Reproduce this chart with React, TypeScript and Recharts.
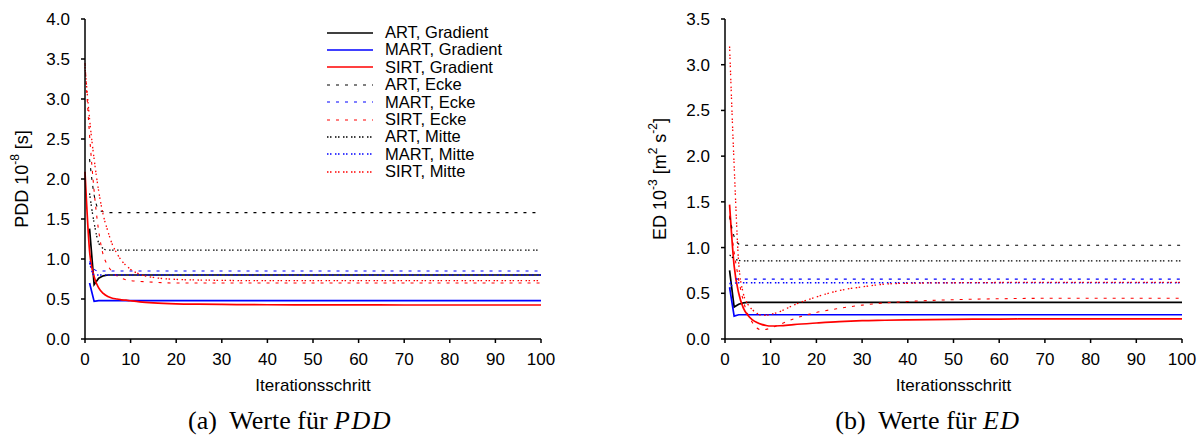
import React from 'react';
import { LineChart, Line, XAxis, YAxis } from 'recharts';

// iteration steps shared by all series
const steps = [0, 1, 2, 3, 4, 5, 6, 7, 8, 9, 10, 12, 15, 20, 25, 30, 35, 40, 50, 60, 70, 80, 90, 100];

// PDD 10^-8 [s]
const pddArtGrad = [null, 1.38, 0.68, 0.76, 0.79, 0.8, 0.8, 0.8, 0.8, 0.8, 0.8, 0.8, 0.8, 0.8, 0.8, 0.8, 0.8, 0.8, 0.8, 0.8, 0.8, 0.8, 0.8, 0.8];
const pddMartGrad = [null, 0.7, 0.47, 0.48, 0.48, 0.48, 0.48, 0.48, 0.48, 0.48, 0.48, 0.48, 0.48, 0.48, 0.48, 0.48, 0.48, 0.48, 0.48, 0.48, 0.48, 0.48, 0.48, 0.48];
const pddSirtGrad = [2.09, 1.1, 0.78, 0.64, 0.57, 0.53, 0.51, 0.5, 0.49, 0.485, 0.478, 0.465, 0.452, 0.44, 0.435, 0.432, 0.43, 0.428, 0.427, 0.426, 0.425, 0.425, 0.425, 0.425];
const pddArtEcke = [null, 2.25, 1.8, 1.62, 1.59, 1.58, 1.58, 1.58, 1.58, 1.58, 1.58, 1.58, 1.58, 1.58, 1.58, 1.58, 1.58, 1.58, 1.58, 1.58, 1.58, 1.58, 1.58, 1.58];
const pddMartEcke = [null, 0.97, 0.87, 0.85, 0.85, 0.85, 0.85, 0.85, 0.85, 0.85, 0.85, 0.85, 0.85, 0.85, 0.85, 0.85, 0.85, 0.85, 0.85, 0.85, 0.85, 0.85, 0.85, 0.85];
const pddSirtEcke = [3.45, 2.55, 1.85, 1.35, 1.05, 0.92, 0.84, 0.79, 0.76, 0.74, 0.73, 0.72, 0.71, 0.7, 0.7, 0.7, 0.7, 0.7, 0.7, 0.7, 0.7, 0.7, 0.7, 0.7];
const pddArtMitte = [null, 1.82, 1.45, 1.2, 1.13, 1.11, 1.11, 1.11, 1.11, 1.11, 1.11, 1.11, 1.11, 1.11, 1.11, 1.11, 1.11, 1.11, 1.11, 1.11, 1.11, 1.11, 1.11, 1.11];
const pddMartMitte = [null, 0.95, 0.8, 0.8, 0.8, 0.8, 0.8, 0.8, 0.8, 0.8, 0.8, 0.8, 0.8, 0.8, 0.8, 0.8, 0.8, 0.8, 0.8, 0.8, 0.8, 0.8, 0.8, 0.8];
const pddSirtMitte = [3.4, 2.75, 2.25, 1.85, 1.55, 1.35, 1.18, 1.07, 0.98, 0.92, 0.87, 0.81, 0.77, 0.745, 0.737, 0.733, 0.73, 0.73, 0.73, 0.73, 0.73, 0.73, 0.73, 0.73];

// ED 10^-3 [m^2 s^-2]
const edArtGrad = [null, 0.75, 0.35, 0.38, 0.395, 0.4, 0.4, 0.4, 0.4, 0.4, 0.4, 0.4, 0.4, 0.4, 0.4, 0.4, 0.4, 0.4, 0.4, 0.4, 0.4, 0.4, 0.4, 0.4];
const edMartGrad = [null, 0.565, 0.25, 0.265, 0.265, 0.265, 0.265, 0.265, 0.265, 0.265, 0.265, 0.265, 0.265, 0.265, 0.265, 0.265, 0.265, 0.265, 0.265, 0.265, 0.265, 0.265, 0.265, 0.265];
const edSirtGrad = [null, 1.47, 0.8, 0.5, 0.34, 0.26, 0.21, 0.18, 0.16, 0.148, 0.142, 0.145, 0.158, 0.175, 0.19, 0.2, 0.205, 0.21, 0.215, 0.218, 0.22, 0.22, 0.22, 0.22];
const edArtEcke = [null, 1.34, 1.12, 1.04, 1.025, 1.025, 1.025, 1.025, 1.025, 1.025, 1.025, 1.025, 1.025, 1.025, 1.025, 1.025, 1.025, 1.025, 1.025, 1.025, 1.025, 1.025, 1.025, 1.025];
const edMartEcke = [null, 0.6, 0.66, 0.655, 0.655, 0.655, 0.655, 0.655, 0.655, 0.655, 0.655, 0.655, 0.655, 0.655, 0.655, 0.655, 0.655, 0.655, 0.655, 0.655, 0.655, 0.655, 0.655, 0.655];
const edSirtEcke = [null, 1.35, 0.95, 0.65, 0.42, 0.27, 0.18, 0.12, 0.1, 0.105, 0.12, 0.16, 0.22, 0.29, 0.335, 0.37, 0.395, 0.41, 0.43, 0.44, 0.445, 0.445, 0.445, 0.445];
const edArtMitte = [null, 0.92, 0.88, 0.86, 0.855, 0.855, 0.855, 0.855, 0.855, 0.855, 0.855, 0.855, 0.855, 0.855, 0.855, 0.855, 0.855, 0.855, 0.855, 0.855, 0.855, 0.855, 0.855, 0.855];
const edMartMitte = [null, 0.55, 0.61, 0.615, 0.615, 0.615, 0.615, 0.615, 0.615, 0.615, 0.615, 0.615, 0.615, 0.615, 0.615, 0.615, 0.615, 0.615, 0.615, 0.615, 0.615, 0.615, 0.615, 0.615];
const edSirtMitte = [null, 3.2, 1.9, 0.83, 0.5, 0.38, 0.32, 0.28, 0.26, 0.26, 0.27, 0.3, 0.37, 0.46, 0.53, 0.57, 0.6, 0.61, 0.615, 0.618, 0.62, 0.62, 0.62, 0.62];

const xTicks = [0, 10, 20, 30, 40, 50, 60, 70, 80, 90, 100];
const pddTicks = [0, 0.5, 1, 1.5, 2, 2.5, 3, 3.5, 4];
const edTicks = [0, 0.5, 1, 1.5, 2, 2.5, 3, 3.5];

const FONT = '"Liberation Sans", Arial, Helvetica, sans-serif';
const DASH = '3 6';
const DOT = '1.5 1.5 1.5 3.5';

const SERIES = [
  { key: 'artGrad', name: 'ART, Gradient', color: '#000000', dash: undefined, width: 1.7, curve: 'linear' },
  { key: 'martGrad', name: 'MART, Gradient', color: '#0000ff', dash: undefined, width: 1.7, curve: 'linear' },
  { key: 'sirtGrad', name: 'SIRT, Gradient', color: '#ff0000', dash: undefined, width: 1.7, curve: 'monotone' },
  { key: 'artEcke', name: 'ART, Ecke', color: '#000000', dash: DASH, width: 1.1, curve: 'monotone' },
  { key: 'martEcke', name: 'MART, Ecke', color: '#0000ff', dash: DASH, width: 1.1, curve: 'monotone' },
  { key: 'sirtEcke', name: 'SIRT, Ecke', color: '#ff0000', dash: DASH, width: 1.1, curve: 'monotone' },
  { key: 'artMitte', name: 'ART, Mitte', color: '#000000', dash: DOT, width: 1.3, curve: 'monotone' },
  { key: 'martMitte', name: 'MART, Mitte', color: '#0000ff', dash: DOT, width: 1.3, curve: 'monotone' },
  { key: 'sirtMitte', name: 'SIRT, Mitte', color: '#ff0000', dash: DOT, width: 1.3, curve: 'monotone' },
];

const pddData = steps.map((step, i) => ({
  step,
  artGrad: pddArtGrad[i], martGrad: pddMartGrad[i], sirtGrad: pddSirtGrad[i],
  artEcke: pddArtEcke[i], martEcke: pddMartEcke[i], sirtEcke: pddSirtEcke[i],
  artMitte: pddArtMitte[i], martMitte: pddMartMitte[i], sirtMitte: pddSirtMitte[i],
}));

const edData = steps.map((step, i) => ({
  step,
  artGrad: edArtGrad[i], martGrad: edMartGrad[i], sirtGrad: edSirtGrad[i],
  artEcke: edArtEcke[i], martEcke: edMartEcke[i], sirtEcke: edSirtEcke[i],
  artMitte: edArtMitte[i], martMitte: edMartMitte[i], sirtMitte: edSirtMitte[i],
}));

const tickStyle = { fill: '#000', fontSize: 17, fontFamily: FONT };

function yLabel(x: number, parts: { t: string; sup?: boolean }[]) {
  return (props: any) => {
    const vb = props.viewBox || {};
    const cy = vb.y + vb.height / 2;
    return (
      <text
        x={x}
        y={cy}
        transform={`rotate(-90, ${x}, ${cy})`}
        textAnchor="middle"
        dominantBaseline="central"
        fontFamily={FONT}
        fontSize={18}
        fill="#000"
      >
        {parts.map((p, i) => (
          <tspan key={i} dy={p.sup ? -7 : i > 0 && parts[i - 1].sup ? 7 : 0} fontSize={p.sup ? 12 : 18}>
            {p.t}
          </tspan>
        ))}
      </text>
    );
  };
}

function xLabel(props: any) {
  const vb = props.viewBox || {};
  return (
    <text x={vb.x + vb.width / 2} y={vb.y + 52} textAnchor="middle" fontFamily={FONT} fontSize={17} fill="#000">
      Iterationsschritt
    </text>
  );
}

function Panel({ data, ticks, max, label, labelX, margin, width }: any) {
  return (
    <LineChart width={width} height={400} data={data} margin={margin}>
      <XAxis
        dataKey="step"
        type="number"
        domain={[0, 100]}
        ticks={xTicks}
        tickSize={4}
        tickMargin={10}
        height={61}
        tick={tickStyle}
        stroke="#000"
        strokeWidth={1.5}
        label={xLabel}
      />
      <XAxis xAxisId="top" orientation="top" dataKey="step" type="number" domain={[0, 100]} tick={false} tickLine={false} height={0} stroke="#000" strokeWidth={1.5} />
      <YAxis
        type="number"
        domain={[0, max]}
        ticks={ticks}
        tickFormatter={(v: number) => v.toFixed(1)}
        tickSize={4}
        tickMargin={11}
        width={55}
        tick={tickStyle}
        stroke="#000"
        strokeWidth={1.5}
        label={yLabel(labelX, label)}
      />
      <YAxis yAxisId="right" orientation="right" domain={[0, max]} tick={false} tickLine={false} width={0} stroke="#000" strokeWidth={1.5} />
      {SERIES.map((s) => (
        <Line
          key={s.key}
          dataKey={s.key}
          name={s.name}
          type={s.curve as any}
          stroke={s.color}
          strokeWidth={s.width}
          strokeDasharray={s.dash}
          dot={false}
          connectNulls
          isAnimationActive={false}
        />
      ))}
    </LineChart>
  );
}

function LegendBox() {
  return (
    <div style={{ position: 'absolute', left: 327, top: 24, fontFamily: FONT, fontSize: 16.5, lineHeight: '17.4px' }}>
      {SERIES.map((s) => (
        <div key={s.key} style={{ display: 'flex', alignItems: 'center', height: 17.4 }}>
          <svg width={46} height={6} style={{ marginRight: 12 }}>
            <line x1={0} y1={3} x2={46} y2={3} stroke={s.color} strokeWidth={s.width} strokeDasharray={s.dash} />
          </svg>
          <span>{s.name}</span>
        </div>
      ))}
    </div>
  );
}

const captionStyle: React.CSSProperties = {
  position: 'absolute',
  top: 406,
  fontFamily: '"Liberation Serif", "Times New Roman", serif',
  fontSize: 26,
  whiteSpace: 'nowrap',
  transform: 'translateX(-50%)',
};

const mathStyle: React.CSSProperties = { fontStyle: 'italic', letterSpacing: 1.5 };

export default function App() {
  return (
    <div style={{ position: 'absolute', left: 0, top: 0, width: 1204, height: 439, background: '#fff', overflow: 'hidden' }}>
      <div style={{ position: 'absolute', left: 0, top: 0 }}>
        <Panel
          data={pddData}
          ticks={pddTicks}
          max={4}
          width={560}
          margin={{ top: 19, right: 19, left: 30, bottom: 0 }}
          labelX={22}
          label={[{ t: 'PDD 10' }, { t: '-8', sup: true }, { t: ' [s]' }]}
        />
      </div>
      <LegendBox />
      <div style={{ position: 'absolute', left: 600, top: 0 }}>
        <Panel
          data={edData}
          ticks={edTicks}
          max={3.5}
          width={604}
          margin={{ top: 19, right: 22, left: 70, bottom: 0 }}
          labelX={60}
          label={[{ t: 'ED 10' }, { t: '-3', sup: true }, { t: ' [m' }, { t: '2', sup: true }, { t: ' s' }, { t: '-2', sup: true }, { t: ']' }]}
        />
      </div>
      <div style={{ ...captionStyle, left: 290 }}>
        (a)&nbsp; Werte für <span style={mathStyle}>PDD</span>
      </div>
      <div style={{ ...captionStyle, left: 928 }}>
        (b)&nbsp; Werte für <span style={mathStyle}>ED</span>
      </div>
    </div>
  );
}
